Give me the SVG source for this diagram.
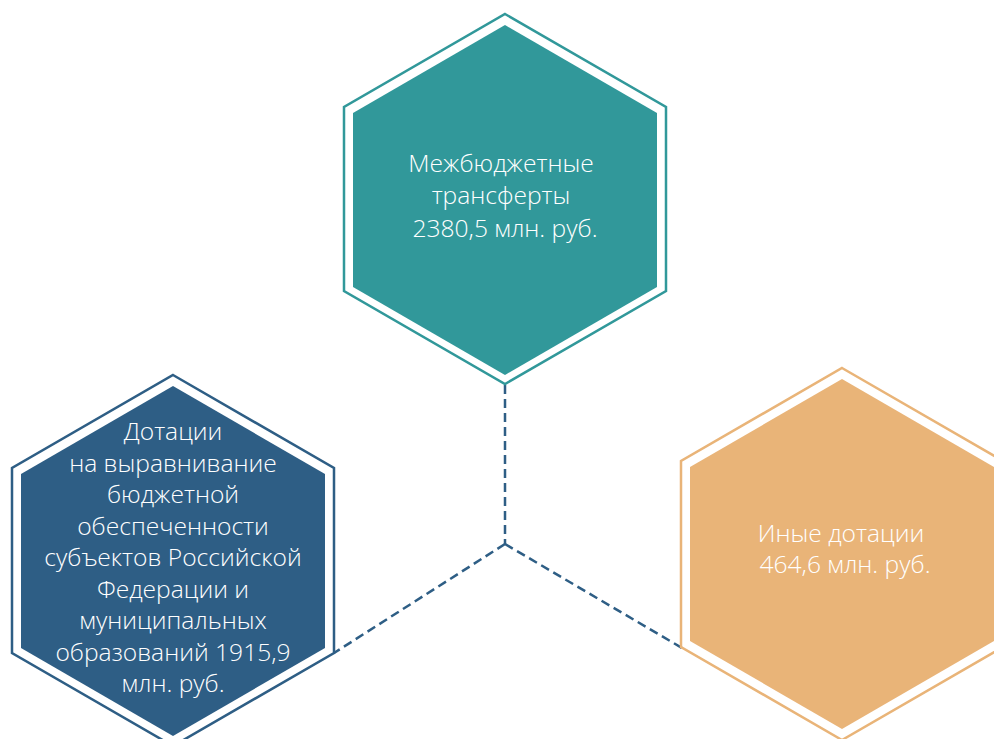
<svg xmlns="http://www.w3.org/2000/svg" width="994" height="739" viewBox="0 0 994 739">
<style>
.lbl{font-family:"Open Sans","Noto Sans","DejaVu Sans",sans-serif;font-weight:300;font-size:24.6px;fill:#FFFFFF;text-anchor:middle}
.conn{fill:none;stroke:#2E5E85;stroke-width:2.5;stroke-dasharray:9 5}
</style>
<rect width="994" height="739" fill="#FFFFFF"/>
<g id="connectors">
<path class="conn" d="M505,385 L505,544"/>
<path class="conn" d="M505,544 L334,653"/>
<path class="conn" d="M505,544 L682,648"/>
</g>
<g id="node-top">
<polygon points="505,14 666,107 666,291 505,384 344,291 344,107" fill="none" stroke="#31989A" stroke-width="2.5"/>
<polygon points="505,25 657,113 657,287 505,375 353,287 353,113" fill="#31989A"/>
<text class="lbl" x="501" y="172">Межбюджетные</text>
<text class="lbl" x="501" y="204">трансферты</text>
<text class="lbl" x="505" y="237">2380,5 млн. руб.</text>
</g>
<g id="node-left">
<polygon points="173,375 334,468 334,653 173,746 12,653 12,468" fill="none" stroke="#2E5E85" stroke-width="2.5"/>
<polygon points="173,386 325,474 325,648 173,736 21,648 21,474" fill="#2E5E85"/>
<text class="lbl" x="173" y="440">Дотации</text>
<text class="lbl" x="173" y="472">на выравнивание</text>
<text class="lbl" x="173" y="503">бюджетной</text>
<text class="lbl" x="173" y="535">обеспеченности</text>
<text class="lbl" x="173" y="566">субъектов Российской</text>
<text class="lbl" x="173" y="598">Федерации и</text>
<text class="lbl" x="173" y="629">муниципальных</text>
<text class="lbl" x="173" y="661">образований 1915,9</text>
<text class="lbl" x="173" y="692">млн. руб.</text>
</g>
<g id="node-right">
<polygon points="842,368 1003,461 1003,647 842,740 681,647 681,461" fill="none" stroke="#E9B478" stroke-width="2.5"/>
<polygon points="842,379 994,467 994,641 842,729 690,641 690,467" fill="#E9B478"/>
<text class="lbl" x="841" y="542">Иные дотации</text>
<text class="lbl" x="845" y="573">464,6 млн. руб.</text>
</g>
</svg>
